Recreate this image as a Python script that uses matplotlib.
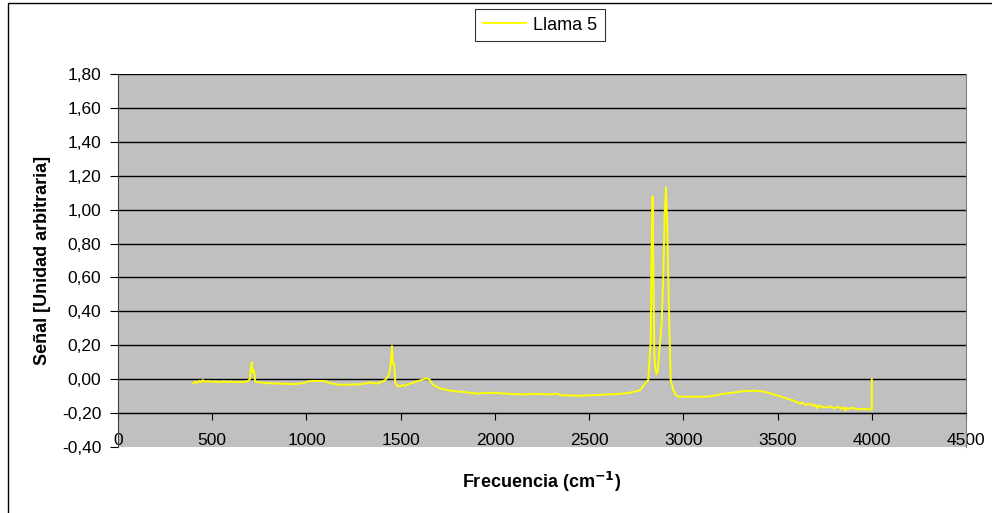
import matplotlib
matplotlib.use('Agg')
import matplotlib.pyplot as plt
from matplotlib.patches import Rectangle
from matplotlib.ticker import FuncFormatter

plt.rcParams['font.family'] = ['Liberation Sans', 'DejaVu Sans']

# espectro "Llama 5"
frecuencia = [400, 410, 420, 430, 440, 450, 460, 480, 500, 520, 540, 560, 580, 600,
              620, 640, 660, 680, 690, 700, 705, 710, 714, 718, 722, 726, 730, 760,
              800, 850, 900, 930, 960, 990, 1010, 1050, 1100, 1125, 1178, 1230, 1284,
              1337, 1373, 1400, 1417, 1430, 1440, 1447, 1454, 1458, 1466, 1472, 1485,
              1496, 1510, 1523, 1550, 1594, 1620, 1634, 1652, 1673, 1709, 1740, 1780,
              1833, 1870, 1904, 1940, 1992, 2050, 2100, 2151, 2200, 2250, 2300, 2328,
              2350, 2400, 2452, 2500, 2550, 2593, 2650, 2717, 2770, 2797, 2814, 2827,
              2832, 2837, 2841, 2846, 2852, 2858, 2864, 2873, 2885, 2894, 2901, 2908,
              2915, 2924, 2933, 2947, 2965, 2982, 3050, 3100, 3142, 3195, 3248, 3318,
              3370, 3416, 3450, 3478, 3510, 3548, 3580, 3600, 3619, 3630, 3650, 3670,
              3690, 3700, 3710, 3720, 3740, 3761, 3780, 3800, 3820, 3840, 3850, 3860,
              3867, 3880, 3900, 3920, 3950, 3991, 4000, 4000]
senal = [-0.025, -0.015, -0.022, -0.010, -0.018, -0.005, -0.015, -0.012, -0.016, -0.014,
         -0.018, -0.013, -0.016, -0.015, -0.017, -0.016, -0.017, -0.015, -0.010, 0.000,
         0.060, 0.100, 0.040, 0.055, 0.050, 0.000, -0.016, -0.020, -0.024, -0.026,
         -0.027, -0.030, -0.026, -0.022, -0.012, -0.010, -0.011, -0.024, -0.033, -0.032,
         -0.030, -0.020, -0.026, -0.015, -0.006, 0.010, 0.033, 0.090, 0.195, 0.090,
         0.090, -0.026, -0.040, -0.045, -0.035, -0.038, -0.026, -0.010, 0.000, 0.004,
         0.000, -0.035, -0.055, -0.062, -0.071, -0.075, -0.080, -0.085, -0.082, -0.080,
         -0.085, -0.088, -0.090, -0.087, -0.088, -0.090, -0.085, -0.095, -0.096, -0.098,
         -0.095, -0.093, -0.090, -0.088, -0.080, -0.065, -0.025, -0.005, 0.23, 0.78,
         1.08, 0.62, 0.15, 0.06, 0.03, 0.05, 0.17, 0.33, 0.62, 0.98, 1.13, 0.88, 0.39,
         -0.005, -0.065, -0.100, -0.104, -0.103, -0.104, -0.102, -0.089, -0.081, -0.071,
         -0.068, -0.071, -0.080, -0.089, -0.100, -0.114, -0.125, -0.135, -0.144, -0.138,
         -0.152, -0.145, -0.159, -0.150, -0.170, -0.155, -0.165, -0.167, -0.160, -0.172,
         -0.162, -0.175, -0.165, -0.185, -0.170, -0.175, -0.168, -0.178, -0.175, -0.179,
         -0.179, 0.0]

x_ticks = [0, 500, 1000, 1500, 2000, 2500, 3000, 3500, 4000, 4500]
y_ticks = [-0.4, -0.2, 0.0, 0.2, 0.4, 0.6, 0.8, 1.0, 1.2, 1.4, 1.6, 1.8]

fig = plt.figure(figsize=(9.92, 5.13), dpi=100)
ax = fig.add_axes([118/992, 1-447/513, 848/992, 373/513])
ax.set_facecolor('#c0c0c0')

ax.plot(frecuencia, senal, color='#ffff00', lw=1.4, label='Llama 5')

ax.set_xlim(0, 4500)
ax.set_ylim(-0.4, 1.8)
ax.set_xticks(x_ticks)
ax.set_yticks(y_ticks)
ax.yaxis.set_major_formatter(FuncFormatter(lambda v, p: f'{v:.2f}'.replace('.', ',')))
for y in y_ticks[1:]:
    ax.axhline(y, color='black', lw=1, zorder=1)

ax.spines['bottom'].set_position(('data', -0.2))
ax.spines['bottom'].set_color('black')
ax.spines['top'].set_visible(False)
ax.spines['right'].set_color('#808080')
ax.spines['left'].set_color('#404040')
ax.tick_params(axis='x', direction='out', length=5, pad=9, labelsize=12.5)
ax.tick_params(axis='y', direction='out', length=6, pad=6, labelsize=12.5)

ax.set_xlabel('Frecuencia (cm$^{\\mathbf{-1}}$)', fontsize=13, fontweight='bold', va='center')
ax.xaxis.set_label_coords(0.5, -0.094)
ax.set_ylabel('Señal [Unidad arbitraria]', fontsize=13, fontweight='bold', va='center')
ax.yaxis.set_label_coords(-0.089, 0.5)

leg = fig.legend(loc='center', bbox_to_anchor=(540/992, 1-25/513), fontsize=13,
                 frameon=True, fancybox=False, edgecolor='black', handlelength=2.4,
                 borderpad=0.4, handletextpad=0.4)
leg.get_frame().set_linewidth(0.8)

fig.add_artist(Rectangle((8/992, -0.5), 2, 0.994 + 0.5, fill=False, lw=1,
                         edgecolor='black', transform=fig.transFigure))

fig.savefig('out.png', dpi=100)
